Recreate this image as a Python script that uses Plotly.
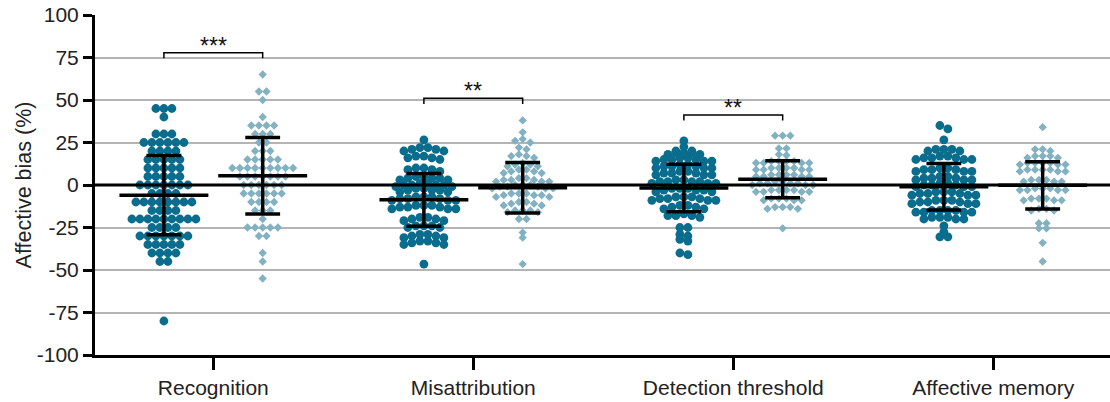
import numpy as np
import plotly.graph_objects as go

categories = ["Recognition", "Misattribution", "Detection threshold", "Affective memory"]
y_ticks = [-100, -75, -50, -25, 0, 25, 50, 75, 100]
y_tick_labels = ["-100", "-75", "-50", "-25", "0", "25", "50", "75", "100"]

# ---- Recognition (values fall on steps of 5; value / count as read) ----
rec_dark_vals = [45, 40, 30, 25, 20, 15, 10, 5, 0, -5, -10, -15, -20, -25, -30, -35, -40, -45, -80]
rec_dark_counts = [3, 1, 3, 6, 4, 5, 5, 5, 7, 4, 8, 4, 9, 4, 7, 5, 4, 2, 1]
rec_light_vals = [65, 55, 50, 40, 35, 30, 25, 20, 15, 10, 5, 0, -5, -10, -15, -20, -25, -30, -40, -45, -55]
rec_light_counts = [1, 2, 1, 1, 4, 3, 2, 3, 5, 9, 7, 6, 6, 4, 3, 1, 5, 2, 1, 1, 1]

# ---- Misattribution ----
mis_dark = [26.5, 21, 22, 20, 21, 22, 20, 17, 16, 15, 16, 17, 10, 9, 8, 9, 10,
            5, 4, 3, 4, 5, 4, 3, 1, 0, -1, 0, 1, 0, -1, 0, -3, -2, -4, -3, -2, -4, -3,
            -8, -7, -9, -8, -7, -9, -8, -7, -9, -13, -12, -14, -13, -12, -14, -13, -12, -14,
            -19, -20, -21, -19, -20, -21, -24, -25, -24, -25, -24,
            -30, -29, -31, -30, -29, -31, -34, -33, -35, -34, -33, -35, -46.5]
mis_light = [38, 31, 26, 27, 25, 22, 21, 17, 16, 18, 17, 12, 11, 13, 12, 11,
             8, 7, 9, 8, 7, 9, 3, 2, 4, 3, 2, 4, 3, 2,
             -1, 0, -2, -1, 0, -2, -1, 0, -2, -6, -5, -7, -6, -5, -7, -6, -5,
             -11, -10, -12, -11, -10, -12, -15, -16, -15, -16, -15, -20, -20, -28, -31, -46.5]

# ---- Detection threshold ----
det_dark = [26, 22.5, 19, 20, 18, 19, 20, 18, 19, 15, 14, 16, 15, 14, 16, 15, 14,
            11, 10, 12, 11, 10, 12, 11, 10, 7, 6, 8, 7, 6, 8, 7, 6,
            2, 1, 3, 2, 1, 3, 2, 1, 2, -3, -2, -4, -3, -2, -4, -3, -2,
            -8, -7, -9, -8, -7, -9, -8, -7, -9, -13, -12, -14, -13, -12, -14,
            -18, -18, -19, -18, -17, -25, -25, -29, -30, -32, -33, -40, -41]
det_light = [29, 29, 29, 21.5, 21.5, 18, 17.5, 14, 13, 14, 13, 14, 13, 14, 13,
             10, 9, 10, 9, 10, 9, 10, 9, 6, 5, 6, 5, 6, 5, 6, 5,
             1, 0, 2, 1, 0, 2, 1, 0, 1, -3, -4, -3, -4, -3, -4, -3, -4,
             -8, -9, -8, -9, -8, -9, -13, -14, -13, -14, -13, -25.5]

# ---- Affective memory ----
aff_dark = [35, 33, 26.5, 21, 20, 21, 20, 21, 16, 15, 17, 16, 15, 17, 16, 15,
            9, 8, 10, 9, 8, 10, 9, 8, 4, 3, 5, 4, 3, 5, 4, 3,
            0, -1, 1, 0, -1, 1, 0, -1, -5, -4, -6, -5, -4, -6, -5, -4, -6,
            -10, -9, -11, -10, -9, -11, -10, -9, -11, -15, -16, -15, -16, -15, -16, -15, -16,
            -19, -20, -19, -20, -19, -20, -24, -27.5, -30.5, -30.5]
aff_light = [34, 21, 20, 21, 17, 16, 17, 16, 17, 13, 12, 13, 12, 13, 12, 13,
             9, 8, 9, 8, 9, 8, 9, 3, 2, 3, 2, 3, 2, -3, -2, -3, -2, -3, -2, -3,
             -9, -8, -9, -8, -9, -8, -15, -14, -15, -14, -22.5, -22.5, -25.5, -25.5, -34, -45]

# ---- Summary statistics (mean and SD bars) ----
means_dark = [-6.0, -8.7, -1.8, -1.0]
sd_dark = [23.3, 15.5, 14.0, 13.7]
means_light = [5.5, -1.6, 3.4, -0.2]
sd_light = [22.5, 14.8, 10.9, 13.9]

# ---- Significance brackets ----
sig_cats = [0, 1, 2]
sig_levels = [77.8, 51.0, 41.2]
sig_labels = ["***", "**", "**"]

DARK = "#0a6d8d"
LIGHT = "#82b1c2"
PX_PER_UNIT_X = 260.0
GROUP_OFFSET = 0.19
FONT = "Liberation Sans, Arial, Helvetica, sans-serif"


def expand(vals, counts):
    out = []
    for v, c in zip(vals, counts):
        out.extend([v] * c)
    return out


def rows_layout(values, spacing_px, row_tol=2.5):
    """Prism-like scatter: nearby values share a row, spread symmetrically."""
    vals = np.asarray(values, dtype=float)
    order = np.argsort(-vals, kind="stable")
    rows = []
    for i in order:
        if rows and vals[rows[-1][0]] - vals[i] <= row_tol:
            rows[-1].append(i)
        else:
            rows.append([i])
    xs = np.zeros(len(vals))
    for row in rows:
        n = len(row)
        slots = [(k - (n - 1) / 2.0) * spacing_px for k in range(n)]
        slots.sort(key=lambda s: (abs(s), s))
        for idx, s in zip(row, slots):
            xs[idx] = s
    return xs / PX_PER_UNIT_X


groups_dark = [expand(rec_dark_vals, rec_dark_counts), mis_dark, det_dark, aff_dark]
groups_light = [expand(rec_light_vals, rec_light_counts), mis_light, det_light, aff_light]

fig = go.Figure()

for ci in range(len(categories)):
    d = groups_dark[ci]
    xd = ci - GROUP_OFFSET + rows_layout(d, 8.0)
    fig.add_trace(go.Scatter(x=xd, y=d, mode="markers",
                             marker=dict(symbol="circle", size=8.8, color=DARK, line=dict(width=0)),
                             showlegend=False, hoverinfo="y"))
    l = groups_light[ci]
    xl = ci + GROUP_OFFSET + rows_layout(l, 7.6)
    fig.add_trace(go.Scatter(x=xl, y=l, mode="markers",
                             marker=dict(symbol="diamond", size=6.4, color=LIGHT, line=dict(width=0)),
                             showlegend=False, hoverinfo="y"))


def add_bars(center, m, s):
    mw = 0.171
    cw = 0.067
    xs = [center - mw, center + mw, None, center, center, None,
          center - cw, center + cw, None, center - cw, center + cw]
    ys = [m, m, None, m - s, m + s, None, m + s, m + s, None, m - s, m - s]
    fig.add_trace(go.Scatter(x=xs, y=ys, mode="lines", line=dict(color="black", width=3.5),
                             showlegend=False, hoverinfo="skip"))


for ci in range(len(categories)):
    add_bars(ci - GROUP_OFFSET, means_dark[ci], sd_dark[ci])
    add_bars(ci + GROUP_OFFSET, means_light[ci], sd_light[ci])

# zero line drawn above the points
fig.add_shape(type="line", xref="paper", x0=0, x1=1, yref="y", y0=0, y1=0,
              line=dict(color="black", width=3), layer="above")

for ci, lev, lab in zip(sig_cats, sig_levels, sig_labels):
    x0 = ci - GROUP_OFFSET
    x1 = ci + GROUP_OFFSET
    fig.add_trace(go.Scatter(x=[x0, x0, x1, x1], y=[lev - 3.3, lev, lev, lev - 3.3],
                             mode="lines", line=dict(color="black", width=1.5),
                             showlegend=False, hoverinfo="skip"))
    fig.add_annotation(x=ci, y=lev, text=lab, showarrow=False, yanchor="bottom",
                       yshift=-8, font=dict(size=23, color="#111", family=FONT))

fig.update_layout(
    width=1110, height=402,
    margin=dict(l=95, r=0, t=15, b=47, autoexpand=False),
    plot_bgcolor="white", paper_bgcolor="white",
    font=dict(family=FONT, size=21, color="#222"),
    showlegend=False,
)
fig.update_xaxes(range=[-0.455, 3.449], tickmode="array", tickvals=list(range(len(categories))),
                 ticktext=categories, showgrid=False, zeroline=False,
                 showline=True, linecolor="black", linewidth=3,
                 ticks="outside", ticklen=12, tickwidth=3, tickcolor="black",
                 tickfont=dict(size=21, color="#222"), automargin=False)
fig.update_yaxes(range=[-100, 100], tickmode="array", tickvals=y_ticks, ticktext=y_tick_labels,
                 showgrid=True, gridcolor="#b4b4b4", gridwidth=1.5, zeroline=False,
                 showline=True, linecolor="black", linewidth=3,
                 ticks="outside", ticklen=9, tickwidth=3, tickcolor="black",
                 tickfont=dict(size=21, color="#222"), automargin=False,
                 title=dict(text="Affective bias (%)", font=dict(size=21.5, color="#222"), standoff=0))

fig.write_html("out.html", config={"displayModeBar": False},
               post_script="document.body.style.margin='0px';")
